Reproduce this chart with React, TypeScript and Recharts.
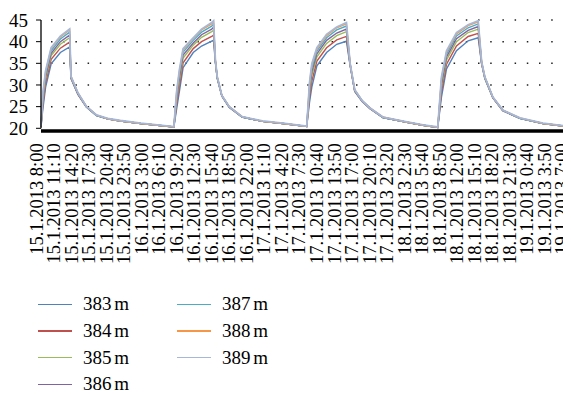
import React from 'react';
import { LineChart, Line, XAxis, YAxis, CartesianGrid } from 'recharts';

const tickLabels = [
  '15.1.2013 8:00', '15.1.2013 11:10', '15.1.2013 14:20', '15.1.2013 17:30', '15.1.2013 20:40', '15.1.2013 23:50',
  '16.1.2013 3:00', '16.1.2013 6:10', '16.1.2013 9:20', '16.1.2013 12:30', '16.1.2013 15:40', '16.1.2013 18:50', '16.1.2013 22:00',
  '17.1.2013 1:10', '17.1.2013 4:20', '17.1.2013 7:30', '17.1.2013 10:40', '17.1.2013 13:50', '17.1.2013 17:00', '17.1.2013 20:10', '17.1.2013 23:20',
  '18.1.2013 2:30', '18.1.2013 5:40', '18.1.2013 8:50', '18.1.2013 12:00', '18.1.2013 15:10', '18.1.2013 18:20', '18.1.2013 21:30',
  '19.1.2013 0:40', '19.1.2013 3:50', '19.1.2013 7:00',
];
const TICK_STEP = 190; // minutes between labels

// minutes since 15.1.2013 8:00
const minutes = [
  0, 20, 50, 110, 210, 310, 325, 400, 490, 600, 720, 860, 1080, 1260, 1440,
  1470, 1500, 1540, 1650, 1740, 1850, 1870, 1890, 1910, 1960, 2040, 2180, 2400, 2620, 2880,
  2910, 2935, 2990, 3095, 3205, 3310, 3350, 3400, 3480, 3565, 3706, 3966, 4140, 4300,
  4340, 4395, 4503, 4629, 4738, 4775, 4810, 4897, 5005, 5190, 5440, 5744,
];

const s383 = [
  20.4, 24.5, 29.5, 34.9, 37.5, 38.8, 31.5, 27.8, 24.9, 22.9, 22.2, 21.7, 21.1, 20.7, 20.3,
  24.5, 28.5, 34.0, 37.5, 39.0, 40.1, 40.3, 35.2, 31.5, 27.4, 24.8, 22.6, 21.6, 21.1, 20.4,
  26.0, 29.5, 34.4, 37.5, 39.4, 40.1, 34.5, 28.5, 26.2, 24.5, 22.5, 21.4, 20.7, 20.2,
  27.2, 33.7, 37.9, 40.2, 40.9, 34.9, 31.5, 27.0, 24.0, 22.3, 21.1, 20.3,
];
const s384 = [
  20.4, 25.4, 30.5, 35.9, 38.5, 39.9, 31.6, 27.9, 25.0, 23.0, 22.2, 21.7, 21.1, 20.7, 20.3,
  25.5, 29.8, 35.1, 38.4, 40.0, 41.2, 41.5, 35.3, 31.6, 27.5, 24.9, 22.6, 21.6, 21.1, 20.4,
  27.2, 30.9, 35.5, 38.6, 40.4, 41.2, 34.6, 28.6, 26.3, 24.6, 22.5, 21.4, 20.7, 20.2,
  28.4, 34.8, 39.0, 41.2, 41.9, 35.0, 31.6, 27.1, 24.1, 22.3, 21.1, 20.3,
];
const s385 = [
  20.4, 26.3, 31.4, 36.8, 39.4, 40.9, 31.7, 28.0, 25.0, 23.0, 22.2, 21.7, 21.1, 20.7, 20.3,
  26.5, 31.0, 36.2, 39.2, 41.0, 42.3, 42.6, 35.4, 31.6, 27.5, 24.9, 22.6, 21.6, 21.1, 20.4,
  28.3, 32.2, 36.5, 39.6, 41.4, 42.3, 34.7, 28.6, 26.3, 24.6, 22.5, 21.4, 20.7, 20.2,
  29.5, 35.8, 40.0, 42.1, 42.9, 35.1, 31.6, 27.1, 24.1, 22.3, 21.1, 20.3,
];
const s386 = [
  20.4, 26.8, 32.0, 37.3, 40.0, 41.5, 31.8, 28.0, 25.0, 23.0, 22.2, 21.7, 21.1, 20.7, 20.3,
  27.1, 31.8, 36.9, 39.7, 41.6, 42.9, 43.3, 35.5, 31.7, 27.5, 24.9, 22.6, 21.6, 21.1, 20.4,
  29.0, 33.1, 37.2, 40.3, 42.0, 42.9, 34.8, 28.7, 26.3, 24.6, 22.5, 21.4, 20.7, 20.2,
  30.2, 36.5, 40.7, 42.6, 43.5, 35.2, 31.7, 27.1, 24.1, 22.3, 21.1, 20.3,
];
const s387 = [
  20.4, 27.4, 32.6, 37.9, 40.6, 42.2, 31.9, 28.1, 25.1, 23.0, 22.2, 21.7, 21.1, 20.7, 20.3,
  27.8, 32.6, 37.6, 40.3, 42.2, 43.6, 44.0, 35.6, 31.8, 27.6, 25.0, 22.6, 21.6, 21.1, 20.4,
  29.7, 33.9, 37.8, 40.9, 42.7, 43.6, 34.9, 28.8, 26.4, 24.7, 22.5, 21.4, 20.7, 20.2,
  31.0, 37.1, 41.3, 43.2, 44.1, 35.3, 31.8, 27.2, 24.2, 22.3, 21.1, 20.3,
];
const s388 = [
  20.4, 27.8, 33.1, 38.4, 41.1, 42.7, 32.0, 28.2, 25.1, 23.1, 22.2, 21.7, 21.1, 20.7, 20.3,
  28.3, 33.2, 38.1, 40.7, 42.7, 44.1, 44.5, 35.7, 31.9, 27.6, 25.0, 22.7, 21.6, 21.1, 20.4,
  30.2, 34.6, 38.3, 41.4, 43.2, 44.1, 35.0, 28.9, 26.4, 24.7, 22.6, 21.4, 20.7, 20.2,
  31.5, 37.6, 41.8, 43.7, 44.6, 35.4, 31.9, 27.2, 24.2, 22.4, 21.1, 20.3,
];
const s389 = [
  20.4, 28.0, 33.3, 38.6, 41.3, 42.9, 32.0, 28.2, 25.1, 23.1, 22.3, 21.8, 21.2, 20.8, 20.4,
  28.5, 33.5, 38.4, 40.9, 42.9, 44.4, 44.8, 35.7, 31.9, 27.6, 25.0, 22.7, 21.7, 21.2, 20.5,
  30.5, 34.9, 38.6, 41.7, 43.4, 44.4, 35.0, 28.9, 26.4, 24.7, 22.6, 21.5, 20.8, 20.3,
  31.8, 37.9, 42.1, 43.9, 44.8, 35.4, 31.9, 27.2, 24.2, 22.4, 21.2, 20.4,
];

const yTicks = [20, 25, 30, 35, 40, 45];

const series = [
  { key: 's383', name: '383 m', color: '#4F81BD', values: s383 },
  { key: 's384', name: '384 m', color: '#C0504D', values: s384 },
  { key: 's385', name: '385 m', color: '#9BBB59', values: s385 },
  { key: 's386', name: '386 m', color: '#8064A2', values: s386 },
  { key: 's387', name: '387 m', color: '#4BACC6', values: s387 },
  { key: 's388', name: '388 m', color: '#F79646', values: s388 },
  { key: 's389', name: '389 m', color: '#A6B7D8', values: s389 },
];

const data = minutes.map((m, i) => {
  const row: any = { minutes: m };
  series.forEach(s => { row[s.key] = s.values[i]; });
  return row;
});

const xTicks = tickLabels.map((_, i) => i * TICK_STEP);
const FONT = '"Liberation Serif", "Times New Roman", serif';

const DateTick = ({ x, y, payload }: any) => (
  <g transform={`translate(${x},${y})`}>
    <text
      transform="rotate(-90)"
      x={-15}
      y={1.5}
      textAnchor="end"
      fontSize={18.5}
      fontFamily={FONT}
      fill="#000"
    >
      {tickLabels[Math.round(payload.value / TICK_STEP)]}
    </text>
  </g>
);

const LegendBlock = () => {
  const cols = [series.slice(0, 4), series.slice(4)];
  return (
    <div style={{ position: 'absolute', left: 38, top: 291, display: 'flex', fontFamily: FONT }}>
      {cols.map((col, ci) => (
        <div key={ci} style={{ width: 139 }}>
          {col.map(s => (
            <div key={s.key} style={{ height: 26.67, display: 'flex', alignItems: 'center' }}>
              <div style={{ width: 34, height: 1.5, background: s.color, marginRight: 11 }} />
              <span style={{ fontSize: 19, color: '#000', wordSpacing: -2, lineHeight: '20px' }}>{s.name}</span>
            </div>
          ))}
        </div>
      ))}
    </div>
  );
};

export default function App() {
  return (
    <div style={{ position: 'relative', width: 571, height: 394, marginLeft: -8, marginTop: -8, background: '#fff' }}>
      <LineChart width={571} height={394} data={data} margin={{ top: 20, right: 0, bottom: 0, left: 0 }}>
        <CartesianGrid
          vertical={false}
          horizontalValues={[25, 30, 35, 40, 45]}
          stroke="#222"
          strokeWidth={1.5}
          strokeDasharray="1.5 10.7"
          strokeDashoffset={2.2}
        />
        <XAxis
          dataKey="minutes"
          type="number"
          domain={[0, 5744]}
          ticks={xTicks}
          interval={0}
          tick={<DateTick />}
          tickLine={false}
          tickSize={0}
          tickMargin={0}
          height={265.7}
          axisLine={{ stroke: '#000', strokeWidth: 3.5, transform: 'translate(0,2.7)' }}
        />
        <YAxis
          domain={[20, 45]}
          ticks={yTicks}
          interval={0}
          width={41}
          tickSize={5}
          tickMargin={8}
          tick={{ fill: '#000', fontSize: 19, fontFamily: FONT }}
          tickLine={{ stroke: '#000' }}
          axisLine={{ stroke: '#000', strokeWidth: 1.3 }}
        />
        {series.map(s => (
          <Line
            key={s.key}
            dataKey={s.key}
            name={s.name}
            type="linear"
            stroke={s.color}
            strokeWidth={s.key === 's389' ? 1.8 : 1.4}
            dot={false}
            activeDot={false}
            isAnimationActive={false}
          />
        ))}
      </LineChart>
      <LegendBlock />
    </div>
  );
}
